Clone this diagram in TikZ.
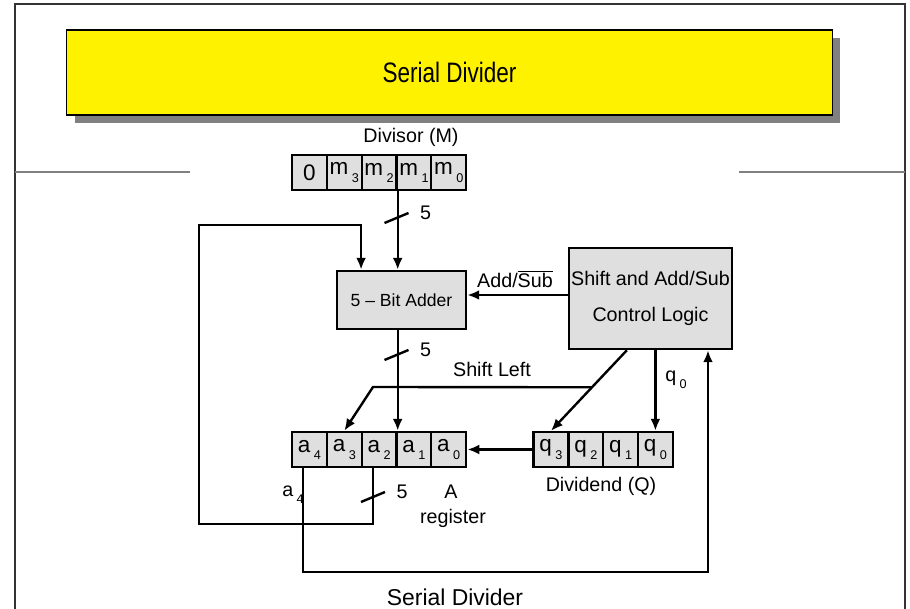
\documentclass[tikz,border=0pt]{standalone}
\usepackage{fontspec}
\setmainfont{Liberation Sans}
\usetikzlibrary{arrows.meta,calc,shadows}

\newcommand{\subidx}[2]{#1\hspace{2.5pt}\raisebox{-5pt}{\fontsize{9}{9}\selectfont #2}}
\newcommand{\busfive}[1]{\draw[wire] (#1) ++(-12,5) -- ++(24,-10) node[lbl,right=4pt] {5};}

\begin{document}
\begin{tikzpicture}[x=0.025cm,y=-0.025cm,
    wire/.style={line width=1.7pt},
    arr/.style={wire,-{Latex[length=8.5pt,width=7pt]}},
    cell/.style={draw,line width=1.7pt,fill=gray!25,minimum width=0.87cm,minimum height=0.875cm,inner sep=0pt,font=\fontsize{16}{17}\selectfont},
    blk/.style={draw,line width=1.7pt,fill=gray!25,inner sep=0pt},
    lbl/.style={font=\fontsize{14}{16}\selectfont}]
  \useasboundingbox (0,0) rectangle (910,609);

  % page frame
  \draw[line width=1pt,black!80] (15,609) -- (15,4) -- (905,4) -- (905,609);
  \draw[line width=1.5pt,gray] (15,172) -- (190,172);
  \draw[line width=1.5pt,gray] (739,172) -- (905,172);

  \node[draw,line width=0.8pt,fill=yellow,minimum width=19.125cm,minimum height=2.125cm,
    drop shadow={shadow xshift=0.2cm,shadow yshift=-0.2cm,fill=gray,opacity=1},
    font=\fontsize{16}{18}\selectfont] (title) at (449.5,72.5) {\scalebox{1}[1.25]{Serial Divider}};

  % divisor register
  \node[lbl] (divlbl) at (411,137) {Divisor (M)};
  \node[cell] (m4) at (309.5,172.5) {0};
  \node[cell] (m3) at (344.3,172.5) {\subidx{m}{3}};
  \node[cell] (m2) at (379.1,172.5) {\subidx{m}{2}};
  \node[cell] (m1) at (413.9,172.5) {\subidx{m}{1}};
  \node[cell] (m0) at (448.7,172.5) {\subidx{m}{0}};

  \node[blk,minimum width=3.225cm,minimum height=1.45cm,font=\fontsize{12.5}{15}\selectfont] (adder) at (401.5,300) {5 -- Bit Adder};
  \node[blk,minimum width=4.075cm,minimum height=2.525cm,align=center,font=\fontsize{14}{26}\selectfont] (ctrl) at (650.5,298.5) {Shift and Add/Sub\\Control Logic};

  % A register
  \node[cell] (a4) at (309.5,449.5) {\subidx{a}{4}};
  \node[cell] (a3) at (344.3,449.5) {\subidx{a}{3}};
  \node[cell] (a2) at (379.1,449.5) {\subidx{a}{2}};
  \node[cell] (a1) at (413.9,449.5) {\subidx{a}{1}};
  \node[cell] (a0) at (448.7,449.5) {\subidx{a}{0}};
  \node[lbl] (alb) at (451,492) {A};
  \node[lbl] (areg) at (453,518) {register};

  % dividend register
  \node[cell] (q3) at (551,449.5) {\subidx{q}{3}};
  \node[cell] (q2) at (585.8,449.5) {\subidx{q}{2}};
  \node[cell] (q1) at (620.6,449.5) {\subidx{q}{1}};
  \node[cell] (q0) at (655.4,449.5) {\subidx{q}{0}};
  \node[lbl] (qlb) at (601,486) {Dividend (Q)};

  % data paths
  \draw[arr] (m2.south east) -- (m2.south east |- adder.north);
  \busfive{396.5,218}
  \draw[arr] (adder.south -| a2.east) -- (a2.north east);
  \busfive{396.5,355}

  \coordinate (fb) at (199,524);
  \draw[arr] ([xshift=-0.15cm]a2.south) |- (fb) -- (fb |- 0,225) -| ([xshift=-1.01cm]adder.north);
  \busfive{373,497}
  \node[lbl] (a4lb) at (293,495) {\subidx{a}{4}};

  \draw[arr] (ctrl.west |- 0,295) -- (adder.east |- 0,295);
  \node[lbl] (addsub) at (515,279) {Add/$\overline{\mbox{Sub}}$};

  \coordinate (d1) at ([xshift=-0.59cm]ctrl.south);
  \coordinate (sl) at ($(d1)!0.46!(q3.north)$);
  \coordinate (slc) at (373,387);
  \draw[arr] (d1) -- (q3.north);
  \draw[arr] (sl) -- (slc) -- (a3.north);
  \node[lbl] (shl) at (492,369) {Shift Left};

  \draw[arr] (q0.north |- ctrl.south) -- (q0.north);
  \node[lbl] (q0lb) at (676,380) {\subidx{q}{0}};

  \draw[arr] (q3.west) -- (a0.east);

  \coordinate (rb) at (708,572);
  \draw[arr] ([xshift=-0.16cm]a4.south) |- (rb) -- (rb |- ctrl.south);

  \node[font=\fontsize{16.3}{18}\selectfont] (cap) at (455,597) {Serial Divider};
\end{tikzpicture}
\end{document}
